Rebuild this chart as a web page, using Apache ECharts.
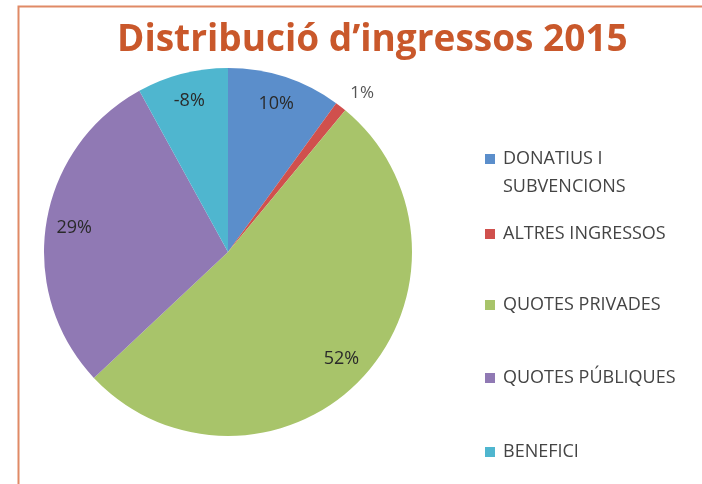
<!DOCTYPE html>
<html lang="ca">
<head>
    <meta charset="UTF-8">
    <title>Distribució d'ingressos 2015</title>
    <script src="https://cdn.jsdelivr.net/npm/echarts@6/dist/echarts.min.js"></script>
    <style>
        html, body { margin: 0; padding: 0; background: #fff; }
        #main { width: 702px; height: 484px; }
    </style>
</head>
<body>
    <div id="main"></div>
    <script>
        // dades
        var categories = ['DONATIUS I SUBVENCIONS', 'ALTRES INGRESSOS', 'QUOTES PRIVADES', 'QUOTES PÚBLIQUES', 'BENEFICI']
        var values = [10, 1, 52, 29, 8]
        var valueLabels = ['10%', '1%', '52%', '29%', '-8%']
        var colors = ['#5b8ecb', '#d0504d', '#a8c46a', '#9079b4', '#4fb6cf']

        var R = 184
        var legendY = [159, 234, 305, 378, 452]

        var pieData = []
        var labelData = []
        for (var i = 0; i < categories.length; i++) {
            pieData.push({ name: categories[i], value: values[i], itemStyle: { color: colors[i] } })
            var item = { name: categories[i], value: values[i], itemStyle: { color: 'transparent' } }
            if (i == 1) item.label = { show: false }
            labelData.push(item)
        }
        // l'etiqueta de l'1% va fora
        pieData[1].label = {
            show: true,
            position: 'outside',
            formatter: valueLabels[1],
            color: '#555',
            fontFamily: 'Open Sans',
            fontSize: 17,
            padding: [0, 0, 7, 0]
        }
        pieData[1].labelLine = { show: false, length: 17, length2: -6 }

        // una llegenda per element, per controlar la posició
        var legends = []
        for (var j = 0; j < categories.length; j++) {
            var lh = 28
            var lines = j == 0 ? 3 : 1
            legends.push({
                data: [categories[j]],
                orient: 'vertical',
                left: 485,
                top: legendY[j] - lines * lh / 2,
                itemWidth: 10,
                itemHeight: 10,
                icon: 'rect',
                itemGap: 0,
                padding: 0,
                selectedMode: false,
                formatter: function(name) {
                    if (name == 'DONATIUS I SUBVENCIONS') return ' \nDONATIUS I\nSUBVENCIONS'
                    return name
                },
                textStyle: {
                    color: '#444',
                    fontFamily: 'Open Sans',
                    fontSize: 18,
                    lineHeight: lh,
                    padding: [0, 0, 0, 3]
                }
            })
        }

        var mCharts = echarts.init(document.getElementById('main'))
        var option = {
            animation: false,
            title: {
                text: 'Distribució d’ingressos 2015',
                left: 112,
                top: 17,
                textStyle: {
                    color: '#c9582b',
                    fontFamily: 'Open Sans',
                    fontWeight: 'bold',
                    fontSize: 37
                }
            },
            legend: legends,
            graphic: [{
                type: 'polyline',
                shape: { points: [[18.5, 484], [18.5, 6.5], [702, 6.5]] },
                style: { stroke: '#e08a66', lineWidth: 2, fill: null }
            }],
            series: [{
                    type: 'pie',
                    center: [228, 252],
                    radius: [0, R],
                    startAngle: 90,
                    clockwise: true,
                    data: pieData,
                    label: { show: false },
                    labelLine: { show: false },
                    emphasis: { disabled: true }
                },
                {
                    // capa transparent només per a les etiquetes interiors
                    type: 'pie',
                    center: [228, 252],
                    radius: [0, R * 1.66],
                    startAngle: 90,
                    clockwise: true,
                    silent: true,
                    data: labelData,
                    label: {
                        show: true,
                        position: 'inside',
                        formatter: function(p) { return valueLabels[p.dataIndex] },
                        color: '#2a2a2a',
                        fontFamily: 'Open Sans',
                        fontSize: 18
                    },
                    labelLine: { show: false },
                    emphasis: { disabled: true }
                }
            ]
        }
        mCharts.setOption(option)
    </script>
</body>
</html>
